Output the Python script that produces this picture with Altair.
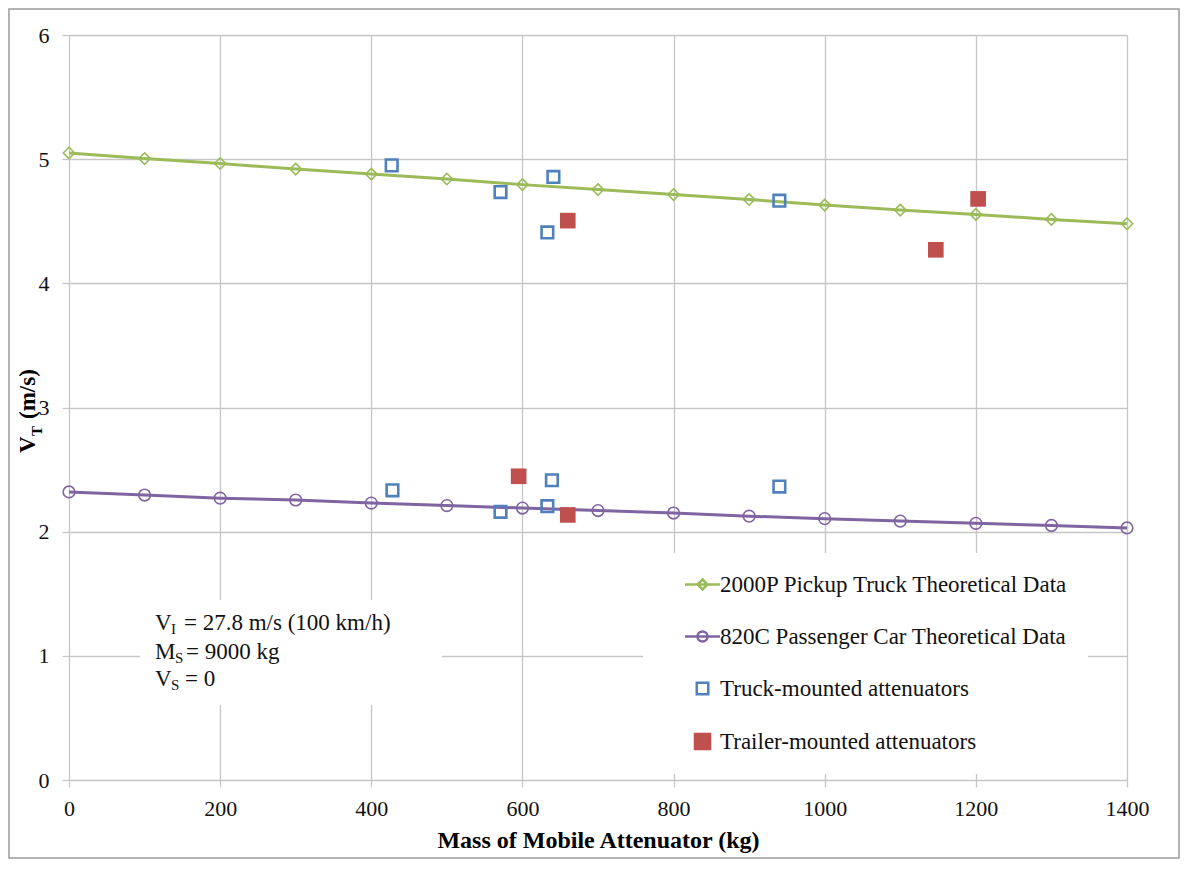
import altair as alt
import pandas as pd

# ---------------- data ----------------
mass = [0, 100, 200, 300, 400, 500, 600, 700, 800, 900, 1000, 1100, 1200, 1300, 1400]
pickup_vt = [5.05, 5.005, 4.965, 4.92, 4.88, 4.84, 4.795, 4.755, 4.715, 4.675,
             4.63, 4.59, 4.555, 4.515, 4.48]
car_vt = [2.32, 2.295, 2.27, 2.255, 2.23, 2.21, 2.19, 2.17, 2.15, 2.125,
          2.105, 2.085, 2.067, 2.05, 2.03]

truck_mass = [427, 571, 641, 633, 940, 428, 571, 639, 633, 940]
truck_vt = [4.95, 4.735, 4.857, 4.41, 4.666, 2.333, 2.16, 2.414, 2.205, 2.363]

trailer_mass = [660, 1147, 1203, 595, 660]
trailer_vt = [4.505, 4.27, 4.68, 2.446, 2.135]

x_ticks = [0, 200, 400, 600, 800, 1000, 1200, 1400]
y_ticks = [0, 1, 2, 3, 4, 5, 6]

legend_labels = ["2000P Pickup Truck Theoretical Data",
                 "820C Passenger Car Theoretical Data",
                 "Truck-mounted attenuators",
                 "Trailer-mounted attenuators"]

anno_main = ["V", "M", "V"]
anno_sub = ["I", "S", "S"]
anno_rest = ["= 27.8 m/s (100 km/h)", "= 9000 kg", "= 0"]

# ---------------- style ----------------
GREEN = "#9bbb59"
PURPLE = "#8064a2"
BLUE = "#4f81bd"
RED = "#c0504d"
GRID = "#c6c6c6"
FONT = "Liberation Serif"

W, H = 1058, 745

pickup_df = pd.DataFrame({"mass": mass, "vt": pickup_vt})
car_df = pd.DataFrame({"mass": mass, "vt": car_vt})
truck_df = pd.DataFrame({"mass": truck_mass, "vt": truck_vt})
trailer_df = pd.DataFrame({"mass": trailer_mass, "vt": trailer_vt})
legend_df = pd.DataFrame({"lbl": legend_labels})
one = pd.DataFrame({"a": [0]})

X = alt.X("mass:Q",
          scale=alt.Scale(domain=[0, 1400], nice=False, zero=False),
          axis=alt.Axis(values=x_ticks, format="d", title="Mass of Mobile Attenuator (kg)",
                        labelFont=FONT, labelFontSize=22, labelColor="#111",
                        labelFlush=False, labelPadding=11,
                        titleFont=FONT, titleFontSize=24,
                        titleFontWeight="bold", titleColor="#000",
                        titleY=67, titleBaseline="alphabetic"))
Y = alt.Y("vt:Q",
          scale=alt.Scale(domain=[0, 6], nice=False, zero=False),
          axis=alt.Axis(values=y_ticks, format="d", title=None,
                        labelFont=FONT, labelFontSize=22, labelColor="#111",
                        labelFlush=False, labelPadding=13))

# white box behind the annotation text
anno_box = alt.Chart(one).mark_rect(color="white").encode(
    x=alt.value(71), x2=alt.value(373), y=alt.value(565), y2=alt.value(670))

pickup_line = alt.Chart(pickup_df).mark_line(color=GREEN, strokeWidth=3).encode(x=X, y=Y)
car_line = alt.Chart(car_df).mark_line(color=PURPLE, strokeWidth=3).encode(x="mass:Q", y="vt:Q")
pickup_pts = alt.Chart(pickup_df).mark_point(shape="diamond", filled=False, size=130,
                                             strokeWidth=1.6, color=GREEN, opacity=1).encode(
    x="mass:Q", y="vt:Q")
car_pts = alt.Chart(car_df).mark_point(shape="circle", filled=False, size=135,
                                       strokeWidth=1.6, color=PURPLE, opacity=1).encode(
    x="mass:Q", y="vt:Q")
truck_pts = alt.Chart(truck_df).mark_point(shape="square", filled=False, size=135,
                                           strokeWidth=2.6, color=BLUE, opacity=1).encode(
    x="mass:Q", y="vt:Q")
trailer_pts = alt.Chart(trailer_df).mark_point(shape="square", filled=True, size=245,
                                               color=RED, opacity=1).encode(
    x="mass:Q", y="vt:Q")

# annotation text (with subscripts)
anno_layers = []
base_y = [595, 624, 651]
main_x = [86, 86, 86]
sub_x = [102, 106, 102]
rest_x = [115, 117, 116]
for i in range(3):
    anno_layers.append(alt.Chart(one).mark_text(
        text=anno_main[i], align="left", baseline="alphabetic", font=FONT,
        fontSize=23, color="#111").encode(x=alt.value(main_x[i]), y=alt.value(base_y[i])))
    anno_layers.append(alt.Chart(one).mark_text(
        text=anno_sub[i], align="left", baseline="alphabetic", font=FONT,
        fontSize=15, color="#111").encode(x=alt.value(sub_x[i]), y=alt.value(base_y[i] + 4)))
    anno_layers.append(alt.Chart(one).mark_text(
        text=anno_rest[i], align="left", baseline="alphabetic", font=FONT,
        fontSize=23, color="#111").encode(x=alt.value(rest_x[i]), y=alt.value(base_y[i])))

# y-axis title V_T (m/s), rotated
yt1 = alt.Chart(one).mark_text(text="V", angle=270, align="left", baseline="alphabetic",
                               font=FONT, fontSize=23, fontWeight="bold", color="#000").encode(
    x=alt.value(-34), y=alt.value(418))
yt2 = alt.Chart(one).mark_text(text="T", angle=270, align="left", baseline="alphabetic",
                               font=FONT, fontSize=15, fontWeight="bold", color="#000").encode(
    x=alt.value(-27), y=alt.value(401))
yt3 = alt.Chart(one).mark_text(text="(m/s)", angle=270, align="left", baseline="alphabetic",
                               font=FONT, fontSize=23, fontWeight="bold", color="#000").encode(
    x=alt.value(-34), y=alt.value(384))

# outer frame
frame = alt.Chart(one).mark_rect(fill="transparent", stroke="#9a9a9a", strokeWidth=1.5).encode(
    x=alt.value(-60), x2=alt.value(1110), y=alt.value(-26), y2=alt.value(823))

# legend (custom symbols: line + marker, squares)
paths = ["M-3.5,0H3.5M0,-1L1,0L0,1L-1,0Z",
         "M-3.5,0H3.5M1,0A1,1,0,1,1,-1,0A1,1,0,1,1,1,0Z",
         "M-1.15,-1.15H1.15V1.15H-1.15Z",
         "M-1.5,-1.5H1.5V1.5H-1.5Z"]
leg = alt.Legend(title=None, orient="none", legendX=574, legendY=518,
                 fillColor="white", padding=20, symbolSize=100, symbolStrokeWidth=2.5,
                 symbolOffset=28, labelOffset=6, rowPadding=28, symbolOpacity=1,
                 labelFont=FONT, labelFontSize=23, labelColor="#111", labelLimit=600)
legend_layer = alt.Chart(legend_df).mark_point(opacity=1).encode(
    x=alt.value(-5000), y=alt.value(-5000),
    shape=alt.Shape("lbl:N", scale=alt.Scale(domain=legend_labels, range=paths), legend=leg),
    stroke=alt.Stroke("lbl:N", scale=alt.Scale(domain=legend_labels,
                                               range=[GREEN, PURPLE, BLUE, RED]), legend=leg),
    fill=alt.Fill("lbl:N", scale=alt.Scale(domain=legend_labels,
                                           range=["transparent", "transparent", "transparent", RED]),
                  legend=leg),
)

chart = alt.layer(
    anno_box, pickup_line, car_line, pickup_pts, car_pts, truck_pts, trailer_pts,
    *anno_layers, yt1, yt2, yt3, frame, legend_layer
).properties(
    width=W, height=H,
    autosize=alt.AutoSizeParams(type="none"),
    padding={"left": 61, "top": 27, "right": 54, "bottom": 80},
    background="white",
).configure_view(stroke=None).configure_axis(
    grid=True, gridColor=GRID, gridWidth=1.3, domain=False,
    tickColor=GRID, tickSize=7, tickWidth=1.3,
)

chart.save("out.html", embed_options={"renderer": "svg", "actions": False})
